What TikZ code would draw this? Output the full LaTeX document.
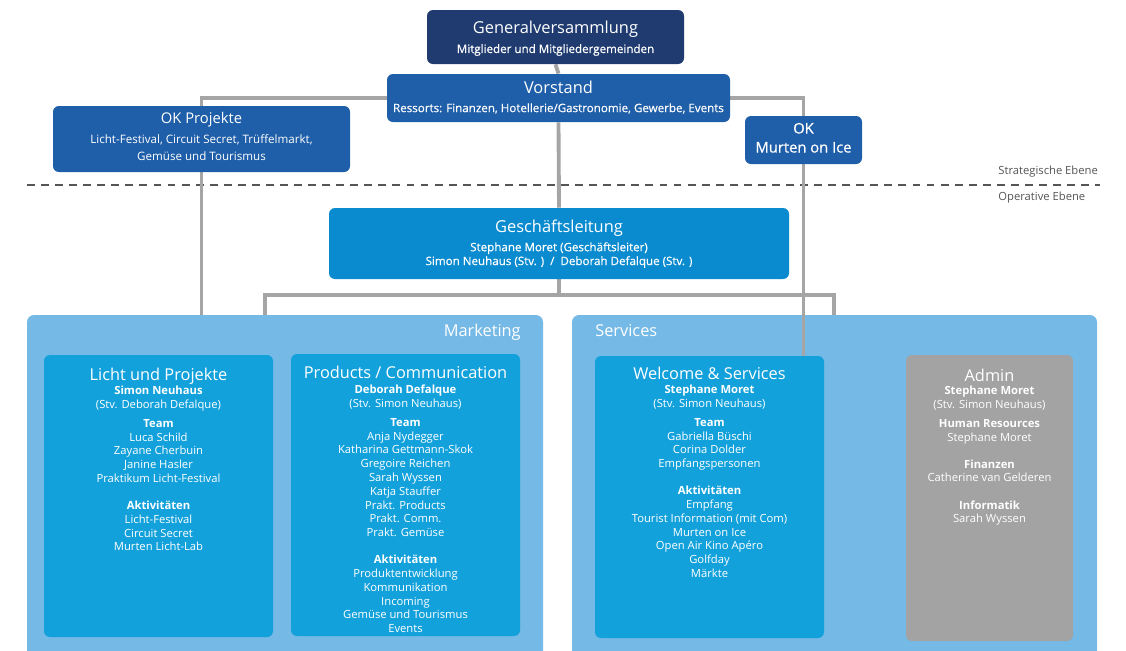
\documentclass[tikz,border=0pt]{standalone}
\usepackage{fontspec}
\setmainfont{Open Sans}
\newfontfamily\orgsemi{Open Sans}[FakeBold=0.5]
\usetikzlibrary{fit}

\definecolor{navy}{HTML}{1F3B70}
\definecolor{board}{HTML}{1F5EA8}
\definecolor{mgmt}{HTML}{0A8BCF}
\definecolor{areablue}{HTML}{75B9E6}
\definecolor{unitblue}{HTML}{13A1DB}
\definecolor{admingray}{HTML}{A3A3A3}
\definecolor{linegray}{HTML}{A5A5A5}
\definecolor{ebenegray}{HTML}{555555}

\newcommand{\orgtitle}{\fontsize{9.35}{11}\selectfont}
\newcommand{\orgok}{\fontsize{8.4}{10.8}\selectfont}
\newcommand{\orghead}{\fontsize{9.3}{10}\selectfont}
\newcommand{\orgsub}{\fontsize{6.6}{7.9}\selectfont}
\newcommand{\orgbody}{\fontsize{6.4}{7.85}\selectfont}
\newcommand{\orgsmall}{\fontsize{6.4}{7}\selectfont}

\pgfdeclarelayer{back}
\pgfdeclarelayer{mid}
\pgfsetlayers{back,mid,main}

\begin{document}
\begin{tikzpicture}[x=0.02cm, y=-0.02cm,
    orgbox/.style={fill=#1, rounded corners=3.4pt, inner sep=0pt},
    dept/.style={fill=areablue, rounded corners=4pt, inner sep=0pt},
    wire/.style={draw=linegray, line width=2.2pt},
    boxtext/.style={text=white, font=\orgsub, align=center, anchor=north, inner sep=0pt},
    unithead/.style={text=white, font=\orghead, anchor=base, inner sep=0pt},
    unitbody/.style={text=white, font=\orgbody, align=center, anchor=north, inner sep=0pt},
    ebene/.style={text=ebenegray, font=\orgsmall, anchor=west, inner sep=0pt}]
  \useasboundingbox (0,0) rectangle (1126,650);

  % Bereiche und Trennlinie
  \begin{pgfonlayer}{back}
    \node[dept, fit={(27,315) (543,665)}] (mk) {};
    \node[dept, fit={(572,315) (1097,665)}] (sv) {};
    \draw[ebenegray, line width=1.1pt, dash pattern=on 4.5pt off 3.5pt] (27,185) -- (1100,185);
  \end{pgfonlayer}
  \node[ebene] (strat) at (998,172) {Strategische Ebene};
  \node[ebene] (oper) at (998,198) {Operative Ebene};
  \node[text=white, font=\orghead, anchor=base east, inner sep=0pt] (mklabel) at (521,336) {Marketing};
  \node[text=white, font=\orghead, anchor=base west, inner sep=0pt] (svlabel) at (595,336) {Services};

  % strategische Ebene
  \node[orgbox=navy, fit={(427,10) (684,64)}] (gv) {};
  \node[orgbox=board, fit={(387,74) (730,122)}] (vs) {};
  \node[orgbox=board, fit={(53,106) (350,172)}] (okp) {};
  \node[orgbox=board, fit={(745,116) (862,164)}] (okm) {};

  \node[boxtext] (gvt) at (555.5,21) {{\orgtitle Generalversammlung}\\[3pt]
    {\orgsemi Mitglieder und Mitgliedergemeinden}};
  \node[boxtext] (vst) at (558.5,81) {{\orgtitle Vorstand}\\[2.5pt]
    {\orgsemi Ressorts: Finanzen, Hotellerie/Gastronomie, Gewerbe, Events}};
  \node[boxtext] (okpt) at (201.5,112) {{\orgok OK Projekte}\\[3.5pt]
    Licht-Festival, Circuit Secret, Trüffelmarkt,\\[2pt] Gemüse und Tourismus};
  \node[boxtext, font=\orgok\orgsemi] (okmt) at (803.5,122.5) {OK\\ Murten on Ice};

  % operative Ebene
  \node[orgbox=mgmt, fit={(329,208) (789,279)}] (gl) {};
  \node[boxtext] (glt) at (559,220) {{\orgtitle Geschäftsleitung}\\[2.5pt]
    {\orgsemi Stephane Moret (Geschäftsleiter)}\\
    {\orgsemi Simon Neuhaus (Stv. )~~/~~Deborah Defalque (Stv. )}};

  \node[orgbox=unitblue, fit={(44,355) (273,637)}] (lp) {};
  \node[orgbox=unitblue, fit={(291,354) (520,636)}] (pc) {};
  \node[orgbox=unitblue, fit={(595,356) (824,638)}] (ws) {};
  \node[orgbox=admingray, fit={(906,355) (1073,641)}] (ad) {};

  \node[unithead] (lph) at (158.5,380) {Licht und Projekte};
  \node[unitbody] (lpb) at (158.5,385.5) {\textbf{Simon Neuhaus}\\ (Stv. Deborah Defalque)\\[3pt]
    \textbf{Team}\\ Luca Schild\\ Zayane Cherbuin\\ Janine Hasler\\ Praktikum Licht-Festival\\[7.6pt]
    \textbf{Aktivitäten}\\ Licht-Festival\\ Circuit Secret\\ Murten Licht-Lab};

  \node[unithead] (pch) at (405.5,378) {Products / Communication};
  \node[unitbody] (pcb) at (405.5,384.5) {\textbf{Deborah Defalque}\\ (Stv. Simon Neuhaus)\\[3pt]
    \textbf{Team}\\ Anja Nydegger\\ Katharina Gettmann-Skok\\ Gregoire Reichen\\ Sarah Wyssen\\
    Katja Stauffer\\ Prakt. Products\\ Prakt. Comm.\\ Prakt. Gemüse\\[7.6pt]
    \textbf{Aktivitäten}\\ Produktentwicklung\\ Kommunikation\\ Incoming\\ Gemüse und Tourismus\\ Events};

  \node[unithead] (wsh) at (709.5,379) {Welcome \& Services};
  \node[unitbody] (wsb) at (709.5,384.5) {\textbf{Stephane Moret}\\ (Stv. Simon Neuhaus)\\[3pt]
    \textbf{Team}\\ Gabriella Büschi\\ Corina Dolder\\ Empfangspersonen\\[7.6pt]
    \textbf{Aktivitäten}\\ Empfang\\ Tourist Information (mit Com)\\ Murten on Ice\\
    Open Air Kino Apéro\\ Golfday\\ Märkte};

  \node[unithead] (adh) at (989.5,381) {Admin};
  \node[unitbody] (adb) at (989.5,385.5) {\textbf{Stephane Moret}\\ (Stv. Simon Neuhaus)\\[3pt]
    \textbf{Human Resources}\\ Stephane Moret\\[7.6pt]
    \textbf{Finanzen}\\ Catherine van Gelderen\\[7.6pt]
    \textbf{Informatik}\\ Sarah Wyssen};

  % Verbindungen
  \coordinate (busL) at (265,295);
  \coordinate (busR) at (834,295);
  \begin{pgfonlayer}{mid}
    \draw[wire] (gv.south) -- (vs.north);
    \draw[wire] (vs.west) -| (okp.center |- mk.north);
    \draw[wire] (vs.east) -| (okm.center |- ws.north);
    \draw[wire] (vs.south) -- (gl.north);
    \draw[wire] (gl.south) -- (gl.south |- busL);
    \draw[wire] (busL |- mk.north) -- (busL) -- (busR) -- (busR |- sv.north);
  \end{pgfonlayer}
\end{tikzpicture}
\end{document}
